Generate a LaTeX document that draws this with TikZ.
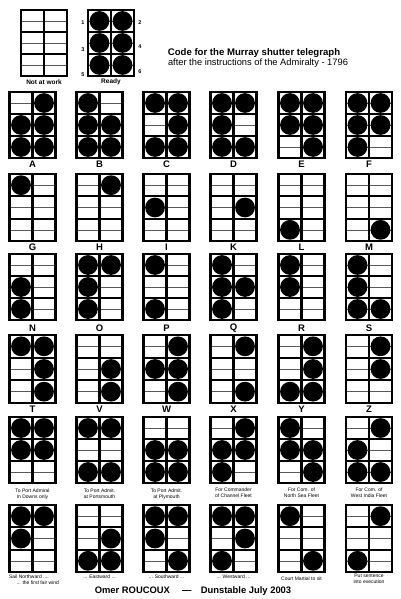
\documentclass[tikz,border=0pt]{standalone}
\usepackage{fontspec}
\setmainfont{Liberation Sans}
\tikzset{
  frame/.style={line width=2.2pt, line join=miter},
  shutline/.style={line width=0.5pt, black!65},
  disc/.style={fill=black},
  letter/.style={font=\bfseries\fontsize{9.5}{9.5}\selectfont, inner sep=0pt},
  topcap/.style={font=\bfseries\fontsize{6.5}{7}\selectfont, inner sep=0pt},
  num/.style={font=\bfseries\fontsize{5.5}{6}\selectfont, inner sep=0pt},
  caption/.style={font=\fontsize{5}{6}\selectfont, align=center, inner sep=0pt},
}
\newcommand\Shutter[5]{%
  \begin{scope}[shift={(#2,#3)}]
    \foreach \r in {0,1,2}{\draw[shutline] (0,{(\r+0.5)*#4/3}) -- (46,{(\r+0.5)*#4/3});}
    \foreach \v [count=\k] in {#5}{%
      \ifnum\v=1
        \pgfmathtruncatemacro\rr{(\k-1)/2}%
        \pgfmathtruncatemacro\cc{\k-1-2*\rr}%
        \fill[disc] ({11.5+23*\cc},{(\rr+0.5)*#4/3}) circle (9.9pt);
      \fi}
    \draw[frame] (0,0) rectangle (46,#4);
    \draw[frame] (23,0) -- (23,#4) (0,{#4/3}) -- (46,{#4/3}) (0,{2*#4/3}) -- (46,{2*#4/3});
    \coordinate (#1) at (23,#4);
  \end{scope}}
\begin{document}
\begin{tikzpicture}[x=1pt,y=-1pt]
\useasboundingbox[fill=white] (0,0) rectangle (400,599);
% header
\Shutter{notwork}{21}{10}{66}{0,0,0,0,0,0}
\Shutter{ready}{88}{10}{66}{1,1,1,1,1,1}
\node[topcap] (lnot) at (44,82) {Not at work};
\node[topcap] (lready) at (111,82) {Ready};
\node[num] (n1) at (83,23) {1};
\node[num] (n3) at (83,50) {3};
\node[num] (n5) at (83,75) {5};
\node[num] (n2) at (140,23) {2};
\node[num] (n4) at (140,47) {4};
\node[num] (n6) at (140,72) {6};
\node[font=\bfseries\fontsize{9.6}{10}\selectfont, inner sep=0pt] (title) at (254,53) {Code for the Murray shutter telegraph};
\node[font=\fontsize{9.3}{10}\selectfont, inner sep=0pt] (subtitle) at (258,63) {after the instructions of the Admiralty - 1796};
% row 1
\Shutter{A}{9.5}{92}{66}{0,1,1,1,1,1}
\Shutter{B}{76.5}{92}{66}{1,0,1,1,1,1}
\Shutter{C}{143.5}{92}{66}{1,1,0,1,1,1}
\Shutter{D}{210.5}{92}{66}{1,1,1,0,1,1}
\Shutter{E}{278.5}{92}{66}{1,1,1,1,0,1}
\Shutter{F}{346}{92}{66}{1,1,1,1,1,0}
\node[letter] (lA) at (32.5,164) {A};
\node[letter] (lB) at (99.5,164) {B};
\node[letter] (lC) at (166.5,164) {C};
\node[letter] (lD) at (233.5,164) {D};
\node[letter] (lE) at (301.5,164) {E};
\node[letter] (lF) at (369,164) {F};
% row 2
\Shutter{G}{9.5}{174}{67}{1,0,0,0,0,0}
\Shutter{H}{76.5}{174}{67}{0,1,0,0,0,0}
\Shutter{I}{143.5}{174}{67}{0,0,1,0,0,0}
\Shutter{K}{210.5}{174}{67}{0,0,0,1,0,0}
\Shutter{L}{278.5}{174}{67}{0,0,0,0,1,0}
\Shutter{M}{346}{174}{67}{0,0,0,0,0,1}
\node[letter] (lG) at (32.5,247) {G};
\node[letter] (lH) at (99.5,247) {H};
\node[letter] (lI) at (166.5,247) {I};
\node[letter] (lK) at (233.5,247) {K};
\node[letter] (lL) at (301.5,247) {L};
\node[letter] (lM) at (369,247) {M};
% row 3
\Shutter{N}{9.5}{254}{66}{0,0,1,0,1,0}
\Shutter{O}{76.5}{254}{66}{1,1,1,0,1,0}
\Shutter{P}{143.5}{254}{66}{1,0,0,0,1,0}
\Shutter{Q}{210.5}{254}{66}{1,0,1,1,1,0}
\Shutter{R}{278.5}{254}{66}{1,0,1,0,0,0}
\Shutter{S}{346}{254}{66}{1,0,1,0,1,1}
\node[letter] (lN) at (32.5,328) {N};
\node[letter] (lO) at (99.5,328) {O};
\node[letter] (lP) at (166.5,328) {P};
\node[letter] (lQ) at (233.5,328) {Q};
\node[letter] (lR) at (301.5,328) {R};
\node[letter] (lS) at (369,328) {S};
% row 4
\Shutter{T}{9.5}{335}{68}{1,1,0,1,0,1}
\Shutter{V}{76.5}{335}{68}{0,0,0,1,0,1}
\Shutter{W}{143.5}{335}{68}{0,1,1,1,0,1}
\Shutter{X}{210.5}{335}{68}{0,1,0,0,0,1}
\Shutter{Y}{278.5}{335}{68}{0,1,0,1,1,1}
\Shutter{Z}{346}{335}{68}{0,1,0,1,0,0}
\node[letter] (lT) at (32.5,409) {T};
\node[letter] (lV) at (99.5,409) {V};
\node[letter] (lW) at (166.5,409) {W};
\node[letter] (lX) at (233.5,409) {X};
\node[letter] (lY) at (301.5,409) {Y};
\node[letter] (lZ) at (369,409) {Z};
% row 5
\Shutter{s1}{9.5}{417}{66}{1,1,1,1,0,0}
\Shutter{s2}{76.5}{417}{66}{1,1,0,0,1,1}
\Shutter{s3}{143.5}{417}{66}{0,0,1,1,1,1}
\Shutter{s4}{210.5}{417}{66}{0,1,1,1,1,0}
\Shutter{s5}{278.5}{417}{66}{1,0,1,1,0,1}
\Shutter{s6}{346}{417}{66}{0,1,1,0,1,1}
\node[caption] (c1) at (32.5,494) {To Port Admiral\\In Downs only};
\node[caption] (c2) at (99.5,494) {To Port Admit.\\at Portsmouth};
\node[caption] (c3) at (166.5,494) {To Port Admit.\\at Plymouth};
\node[caption] (c4) at (233.5,493) {For Commander\\of Channel Fleet};
\node[caption] (c5) at (301.5,493) {For Com. of\\North Sea Fleet};
\node[caption] (c6) at (369,493) {For Com. of\\West India Fleet};
% row 6
\Shutter{t1}{9.5}{505}{67}{1,1,1,0,0,0}
\Shutter{t2}{76.5}{505}{67}{0,0,0,1,1,1}
\Shutter{t3}{143.5}{505}{67}{1,1,1,0,0,1}
\Shutter{t4}{210.5}{505}{67}{1,1,0,1,1,0}
\Shutter{t5}{278.5}{505}{67}{1,0,0,0,0,1}
\Shutter{t6}{346}{505}{67}{0,1,0,0,1,0}
\node[caption, align=left] (d1) at (34,580) {Sail Northward ....\\\hspace*{1.5em}... the first fair wind};
\node[caption] (d2) at (99.5,577) {... Eastward ...};
\node[caption] (d3) at (166.5,577) {... Southward ...};
\node[caption] (d4) at (233.5,577) {... Westward ...};
\node[caption] (d5) at (301.5,579) {Court Martial to sit};
\node[caption] (d6) at (369,579) {Put sentence\\into execution};
% footer
\node[font=\bfseries\fontsize{9.4}{10}\selectfont, inner sep=0pt] (footer) at (193,591) {Omer ROUCOUX \quad---\quad Dunstable July 2003};
\end{tikzpicture}
\end{document}
